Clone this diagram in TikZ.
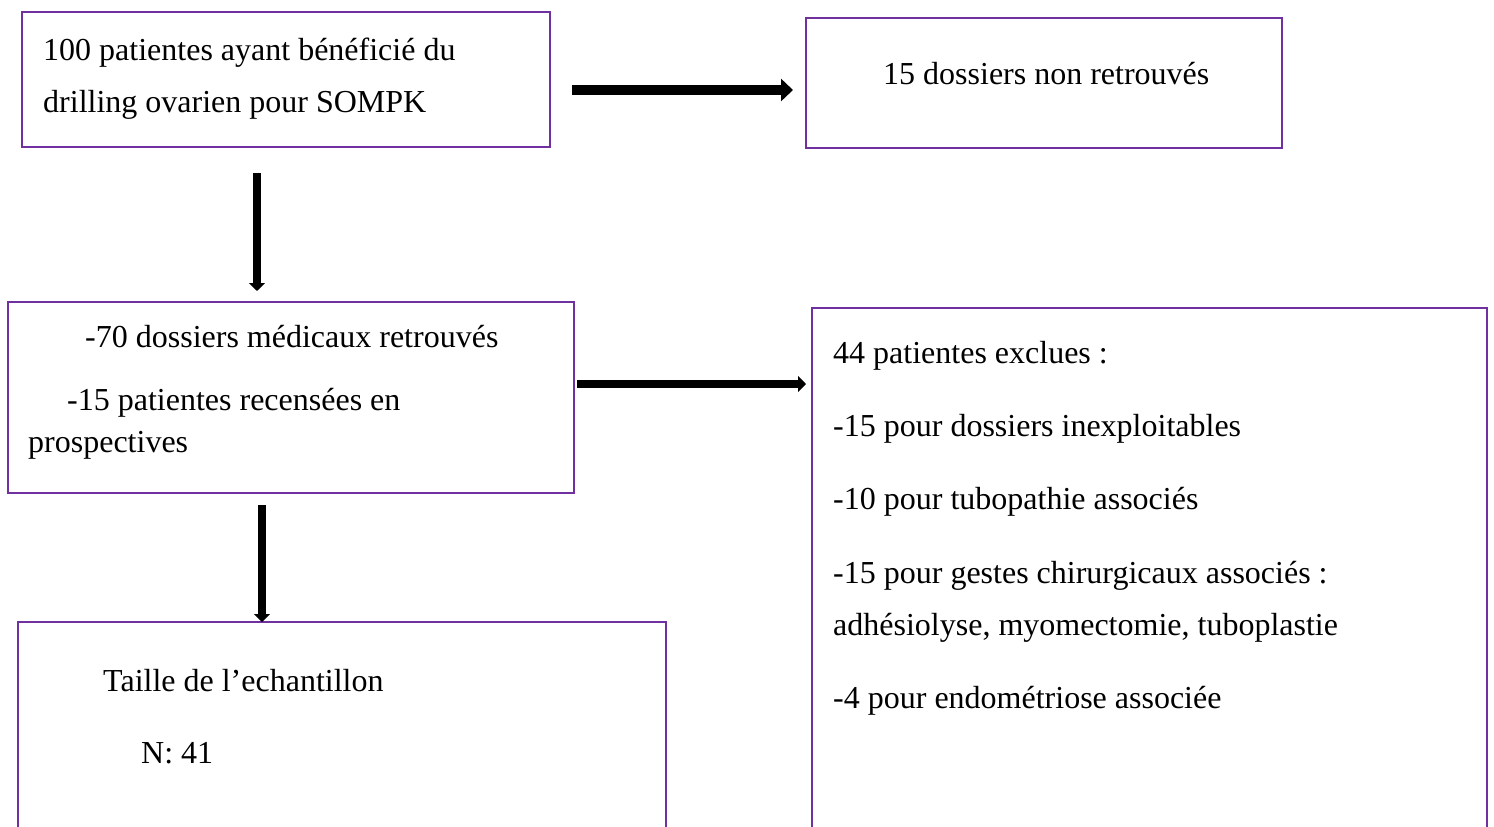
\documentclass[tikz,border=0pt]{standalone}
\usepackage{fontspec}
\setmainfont{Liberation Serif}
\usetikzlibrary{arrows.meta,calc}
\definecolor{boxpurple}{HTML}{7030A0}
\begin{document}
\begin{tikzpicture}[x=1pt,y=-1pt,
  box/.style={draw=boxpurple,line width=2.8pt,rectangle,inner sep=0pt,outer sep=0pt},
  txt/.style={anchor=base west,inner sep=0pt,font=\fontsize{32}{52}\selectfont},
  arrbig/.style={line width=10pt,-{Triangle[length=12pt,width=22pt]}},
  arrsmall/.style={line width=8pt,-{Triangle[length=8pt,width=16pt]}}]
\clip (0,0) rectangle (1494,827);
\fill[white] (0,0) rectangle (1494,827);
% boxes
\node[box,minimum width=528pt,minimum height=135pt] (A) at (286,79.5) {};
\node[box,minimum width=476pt,minimum height=130pt] (B) at (1044,83) {};
\node[box,minimum width=566pt,minimum height=191pt] (C) at (291,397.5) {};
\node[box,minimum width=675pt,minimum height=542pt] (D) at (1149.5,579) {};
\node[box,minimum width=648pt,minimum height=228pt] (E) at (342,736) {};
% texts
\node[txt] (a1) at (43,60) {100 patientes ayant bénéficié du};
\node[txt] (a2) at (43,112) {drilling ovarien pour SOMPK};
\node[txt] (b1) at (883,84) {15 dossiers non retrouvés};
\node[txt] (c1) at (85,347) {-70 dossiers médicaux retrouvés};
\node[txt] (c2) at (67,410) {-15 patientes recensées en};
\node[txt] (c3) at (28,452) {prospectives};
\node[txt] (d1) at (833,363) {44 patientes exclues :};
\node[txt] (d2) at (833,436) {-15 pour dossiers inexploitables};
\node[txt] (d3) at (833,509) {-10 pour tubopathie associés};
\node[txt] (d4) at (833,583) {-15 pour gestes chirurgicaux associés :};
\node[txt] (d5) at (833,635) {adhésiolyse, myomectomie, tuboplastie};
\node[txt] (d6) at (833,708) {-4 pour endométriose associée};
\node[txt] (e1) at (103,691) {Taille de l’echantillon};
\node[txt] (e2) at (141,763) {N: 41};
% arrows
\draw[arrbig] ($(A.east)+(22,10.5)$) -- ($(B.west)+(-13,7)$);
\draw[arrsmall] ($(A.south)+(-29,26)$) -- ($(C.north)+(-34,-11)$);
\draw[arrsmall] ($(C.east)+(3,-13.5)$) -- ($(D.west)+(-6,-195)$);
\draw[arrsmall] ($(C.south)+(-29,12)$) -- ($(E.north)+(-80,0)$);
\end{tikzpicture}
\end{document}
